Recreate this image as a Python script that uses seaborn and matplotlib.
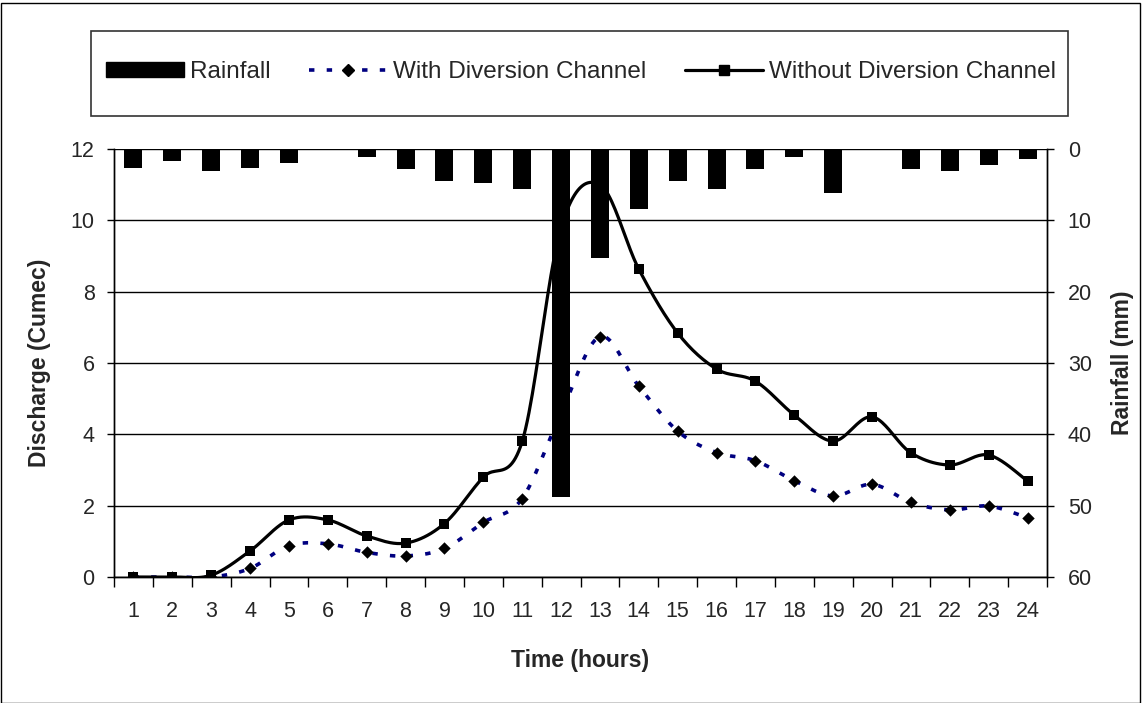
import numpy as np
import matplotlib
matplotlib.use("Agg")
import matplotlib.pyplot as plt
import seaborn as sns
from matplotlib.patches import Rectangle, Patch
from matplotlib.lines import Line2D

hours = list(range(1, 25))
rainfall = [2.6, 1.7, 3.1, 2.6, 2.0, 0.0, 1.1, 2.8, 4.5, 4.8, 5.6, 48.8,
            15.3, 8.4, 4.5, 5.6, 2.8, 1.1, 6.1, 0.0, 2.8, 3.1, 2.2, 1.4]
with_div = [0.0, 0.0, 0.0, 0.24, 0.88, 0.93, 0.69, 0.59, 0.80, 1.53, 2.20, 4.6,
            6.74, 5.35, 4.09, 3.49, 3.26, 2.70, 2.27, 2.60, 2.09, 1.88, 1.99, 1.66]
without_div = [0.0, 0.0, 0.05, 0.73, 1.60, 1.60, 1.15, 0.95, 1.50, 2.80, 3.80, 9.8,
               11.0, 8.63, 6.84, 5.83, 5.49, 4.54, 3.81, 4.49, 3.48, 3.14, 3.42, 2.69]
xticklabels = [str(h) for h in hours]

sns.set_theme(style="white")
plt.rcParams['font.family'] = ['Liberation Sans', 'DejaVu Sans']

TICK_FS = 15.5
LABEL_FS = 16.5
LEG_FS = 17.5


def smooth(x, y, n=24):
    """Catmull-Rom style smoothing (like Excel smoothed lines)."""
    x = np.asarray(x, float)
    y = np.asarray(y, float)
    px = np.concatenate([[x[0]], x, [x[-1]]])
    py = np.concatenate([[y[0]], y, [y[-1]]])
    xs, ys = [], []
    for i in range(1, len(px) - 2):
        p0 = np.array([px[i - 1], py[i - 1]])
        p1 = np.array([px[i], py[i]])
        p2 = np.array([px[i + 1], py[i + 1]])
        p3 = np.array([px[i + 2], py[i + 2]])
        c1 = p1 + (p2 - p0) / 6.0
        c2 = p2 - (p3 - p1) / 6.0
        t = np.linspace(0, 1, n)[:, None]
        pts = ((1 - t) ** 3) * p1 + 3 * ((1 - t) ** 2) * t * c1 + 3 * (1 - t) * t ** 2 * c2 + t ** 3 * p2
        xs.append(pts[:, 0])
        ys.append(pts[:, 1])
    return np.concatenate(xs), np.concatenate(ys)


W, H = 1142, 703
fig = plt.figure(figsize=(W / 100, H / 100), dpi=100)
fig.patch.set_facecolor("white")
ax = fig.add_axes([114 / W, 1 - 577 / H, (1047 - 114) / W, (577 - 149) / H])
ax.set_facecolor("white")

navy = "#000080"
dash = (0, (1.5, 3.4))
# Smoothed lines
sx, sy = smooth(hours, with_div)
ax.plot(sx, sy, color=navy, lw=2.6, linestyle=dash, zorder=3)
sx, sy = smooth(hours, without_div)
ax.plot(sx, sy, color="black", lw=2.3, zorder=3)
sns.scatterplot(x=hours, y=with_div, ax=ax, marker="D", s=40, color="black",
                edgecolor="black", linewidth=0, zorder=4, legend=False)
sns.scatterplot(x=hours, y=without_div, ax=ax, marker="s", s=58, color="black",
                edgecolor="black", linewidth=0, zorder=4, legend=False)

ax.set_xlim(0.5, 24.5)
ax.set_ylim(0, 12)
ax.set_yticks(np.arange(0, 13, 2))
ax.yaxis.grid(True, color="black", lw=1.0)
ax.set_axisbelow(True)
ax.set_xticks(np.arange(0.5, 25, 1))
ax.set_xticklabels([])
ax.set_xticks(hours, minor=True)
ax.set_xticklabels(xticklabels, minor=True, fontsize=TICK_FS)
ax.tick_params(axis="x", which="major", length=7, width=1, color="black", direction="out", bottom=True)
ax.tick_params(axis="x", which="minor", length=0, pad=17, bottom=True)
ax.tick_params(axis="y", length=5, width=1, color="black", direction="out", labelsize=TICK_FS, left=True, pad=9)
for s in ax.spines.values():
    s.set_color("black")
    s.set_linewidth(1.0)
ax.spines["top"].set_visible(False)
ax.set_ylabel("Discharge (Cumec)", fontsize=LABEL_FS, fontweight="bold", labelpad=14)
ax.set_xlabel("Time (hours)", fontsize=LABEL_FS, fontweight="bold", labelpad=20)

# Rainfall on secondary reversed axis
ax2 = ax.twinx()
sns.barplot(x=hours, y=rainfall, ax=ax2, native_scale=True, color="black",
            width=0.46, saturation=1, edgecolor="black", linewidth=0)
ax2.set_ylim(60, 0)
ax2.set_xlim(0.5, 24.5)
ax2.set_yticks(np.arange(0, 61, 10))
ax2.tick_params(axis="y", length=5, width=1, color="black", direction="out", labelsize=TICK_FS, right=True, pad=10)
ax2.set_ylabel("Rainfall (mm)", fontsize=LABEL_FS, fontweight="bold", labelpad=14)
ax2.grid(False)
for s in ax2.spines.values():
    s.set_color("black")
    s.set_linewidth(1.0)
ax2.spines["top"].set_visible(False)

# Legend box
bx0, bx1, by0, by1 = 91, 1068, 31, 116
fig.patches.append(Rectangle((bx0 / W, 1 - by1 / H), (bx1 - bx0) / W, (by1 - by0) / H,
                             transform=fig.transFigure, fill=False, edgecolor="#333333", lw=1.2))
handles = [
    Patch(facecolor="black", edgecolor="black"),
    Line2D([], [], color=navy, lw=2.6, linestyle=dash, marker="D",
           markersize=6, markerfacecolor="black", markeredgecolor="black"),
    Line2D([], [], color="black", lw=2.3, marker="s", markersize=6.5,
           markerfacecolor="black", markeredgecolor="black"),
]
labels = ["Rainfall", "With Diversion Channel", "Without Diversion Channel"]
fig.legend(handles, labels, loc="center", bbox_to_anchor=(581 / W, 1 - 72 / H),
           ncol=3, frameon=False, fontsize=LEG_FS, handlelength=3.2, handleheight=0.6,
           columnspacing=1.6, handletextpad=0.25, borderpad=0)

# figure border
fig.patches.append(Rectangle((1 / W, 0), (W - 3) / W, 1 - 3 / H, transform=fig.transFigure,
                             fill=False, edgecolor="black", lw=1.0))

fig.savefig("out.png", dpi=100, facecolor="white")
